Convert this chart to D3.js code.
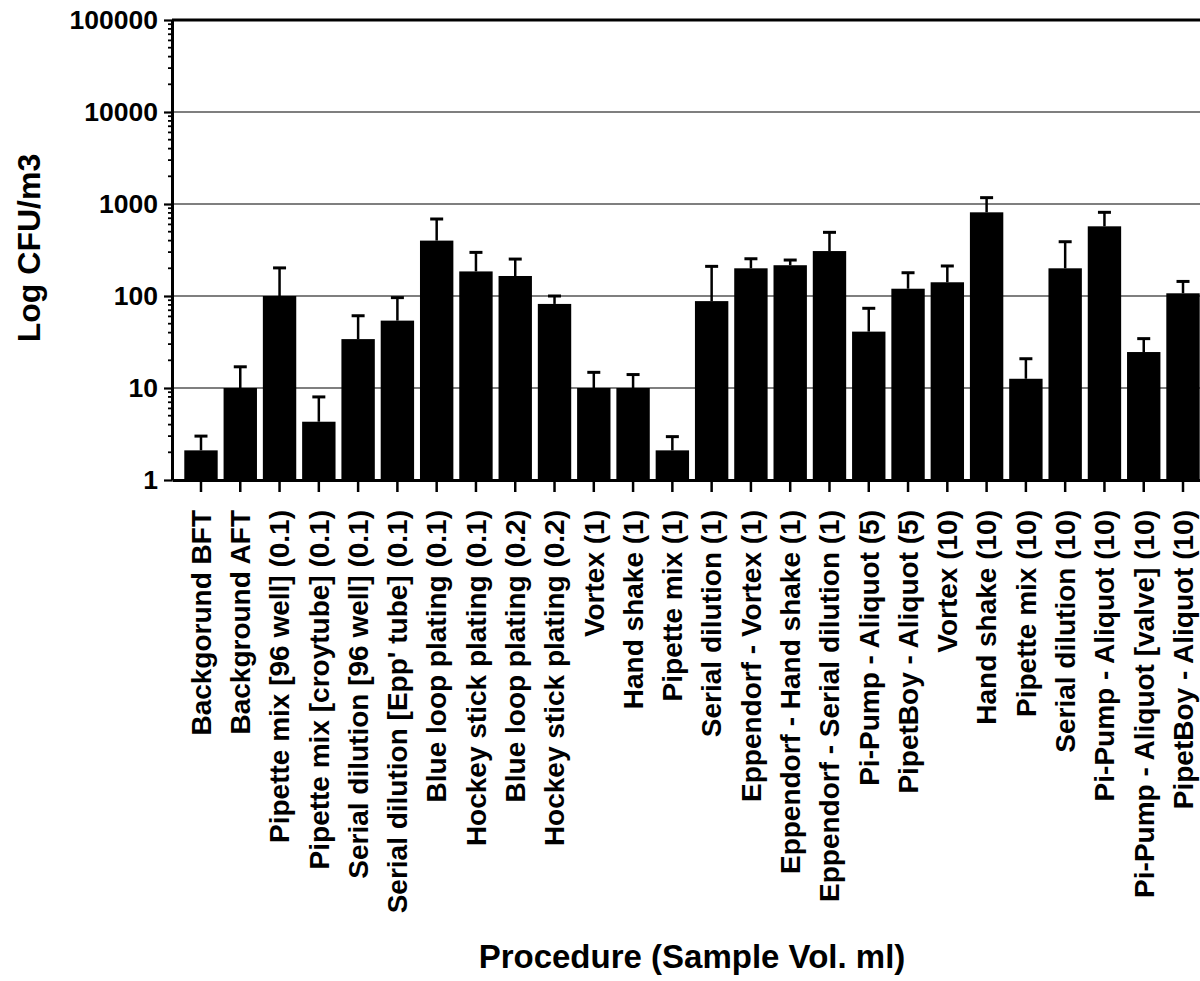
<!DOCTYPE html>
<html>
<head>
<meta charset="utf-8">
<script src="https://cdn.jsdelivr.net/npm/d3@7"></script>
<style>
  html, body { margin: 0; padding: 0; background: #fff; }
  svg { display: block; }
  text { font-family: "Liberation Sans", Arial, Helvetica, sans-serif; font-weight: bold; fill: #000; }
</style>
</head>
<body>
<svg id="chart" width="1200" height="981"></svg>
<script>
const categories = [
  "Backgorund BFT",
  "Background AFT",
  "Pipette mix [96 well] (0.1)",
  "Pipette mix [croytube] (0.1)",
  "Serial dilution [96 well] (0.1)",
  "Serial dilution [Epp' tube] (0.1)",
  "Blue loop plating (0.1)",
  "Hockey stick plating (0.1)",
  "Blue loop plating (0.2)",
  "Hockey stick plating (0.2)",
  "Vortex (1)",
  "Hand shake (1)",
  "Pipette mix (1)",
  "Serial dilution (1)",
  "Eppendorf - Vortex (1)",
  "Eppendorf - Hand shake (1)",
  "Eppendorf - Serial dilution (1)",
  "Pi-Pump - Aliquot (5)",
  "PipetBoy - Aliquot (5)",
  "Vortex (10)",
  "Hand shake (10)",
  "Pipette mix (10)",
  "Serial dilution (10)",
  "Pi-Pump - Aliquot (10)",
  "Pi-Pump - Aliquot [valve] (10)",
  "PipetBoy - Aliquot (10)"
];
const meanValues = [2.1, 10, 100, 4.3, 34, 54, 400, 185, 165, 82, 10, 10, 2.1, 88, 200, 216, 308, 41, 120, 141, 812, 12.6, 200, 572, 24.6, 107];
const sdValues   = [0.9, 7, 102, 3.7, 27, 42, 287, 113, 87, 18, 4.8, 4, 0.86, 122, 54, 30, 184, 32.5, 59, 71, 360, 8.2, 189, 240, 9.8, 37];
const yTickValues = [1, 10, 100, 1000, 10000, 100000];
const yTickLabels = ["1", "10", "100", "1000", "10000", "100000"];
const yTitle = "Log CFU/m3";
const xTitle = "Procedure (Sample Vol. ml)";

const data = categories.map((c, i) => ({ cat: c, mean: meanValues[i], sd: sdValues[i] }));

const svg = d3.select("#chart");
svg.append("rect").attr("width", 1200).attr("height", 981).attr("fill", "#fff");

const x0 = 172, x1 = 1212, yBottom = 480, yTop = 20;

const x = d3.scaleBand().domain(categories).range([x0, x1]).paddingInner(0.15).paddingOuter(0.313);
const y = d3.scaleLog().domain([1, 100000]).range([yBottom, yTop]);

// gridlines
const gridVals = yTickValues.slice(1);
svg.append("g").selectAll("line").data(gridVals).join("line")
  .attr("x1", x0).attr("x2", x1)
  .attr("y1", d => y(d)).attr("y2", d => y(d))
  .attr("stroke", d => d === 100000 ? "#000" : "#555")
  .attr("stroke-width", d => d === 100000 ? 3 : 1.6);

// bars
svg.append("g").selectAll("rect").data(data).join("rect")
  .attr("x", d => x(d.cat))
  .attr("width", x.bandwidth())
  .attr("y", d => y(d.mean))
  .attr("height", d => yBottom - y(d.mean))
  .attr("fill", "#000");

// error bars
const eb = svg.append("g").selectAll("g").data(data).join("g");
eb.append("line")
  .attr("x1", d => x(d.cat) + x.bandwidth() / 2)
  .attr("x2", d => x(d.cat) + x.bandwidth() / 2)
  .attr("y1", d => y(d.mean))
  .attr("y2", d => y(d.mean + d.sd))
  .attr("stroke", "#000").attr("stroke-width", 2.5);
eb.append("line")
  .attr("x1", d => x(d.cat) + x.bandwidth() / 2 - 6.5)
  .attr("x2", d => x(d.cat) + x.bandwidth() / 2 + 6.5)
  .attr("y1", d => y(d.mean + d.sd))
  .attr("y2", d => y(d.mean + d.sd))
  .attr("stroke", "#000").attr("stroke-width", 3);

// y axis minor ticks
const minor = [];
for (let dec = 1; dec < 100000; dec *= 10) {
  for (let k = 2; k <= 9; k++) minor.push(dec * k);
}
svg.append("g").selectAll("line").data(minor).join("line")
  .attr("x1", x0 - 4).attr("x2", x0)
  .attr("y1", d => y(d)).attr("y2", d => y(d))
  .attr("stroke", "#000").attr("stroke-width", 1.8);

// y axis
const yAxis = d3.axisLeft(y)
  .tickValues(yTickValues)
  .tickFormat((d, i) => yTickLabels[i])
  .tickSize(8).tickSizeOuter(0).tickPadding(6);
const gy = svg.append("g").attr("transform", `translate(${x0},0)`).call(yAxis);
gy.select(".domain").attr("stroke", "#000").attr("stroke-width", 3);
gy.selectAll(".tick line").attr("stroke", "#000").attr("stroke-width", 2.2);
gy.selectAll(".tick text")
  .style("font-family", '"Liberation Sans", Arial, sans-serif')
  .style("font-weight", "bold").style("font-size", "26.5px").attr("fill", "#000");

// x axis
const xAxis = d3.axisBottom(x).tickSize(12).tickSizeOuter(0);
const gx = svg.append("g").attr("transform", `translate(0,${yBottom})`).call(xAxis);
gx.select(".domain").attr("stroke", "#000").attr("stroke-width", 3);
gx.selectAll(".tick line").attr("stroke", "#000").attr("stroke-width", 2.5);
gx.selectAll(".tick text")
  .style("font-family", '"Liberation Sans", Arial, sans-serif')
  .style("font-weight", "bold").style("font-size", "28px")
  .attr("fill", "#000")
  .attr("transform", "rotate(-90)")
  .attr("text-anchor", "end")
  .attr("x", -30).attr("y", 0).attr("dy", "0.35em");

// titles
svg.append("text")
  .attr("transform", `translate(40,${(yTop + yBottom) / 2 - 2}) rotate(-90)`)
  .attr("text-anchor", "middle")
  .style("font-size", "32px")
  .text(yTitle);

svg.append("text")
  .attr("x", (x0 + x1) / 2).attr("y", 968)
  .attr("text-anchor", "middle")
  .style("font-size", "33px")
  .text(xTitle);
</script>
</body>
</html>
